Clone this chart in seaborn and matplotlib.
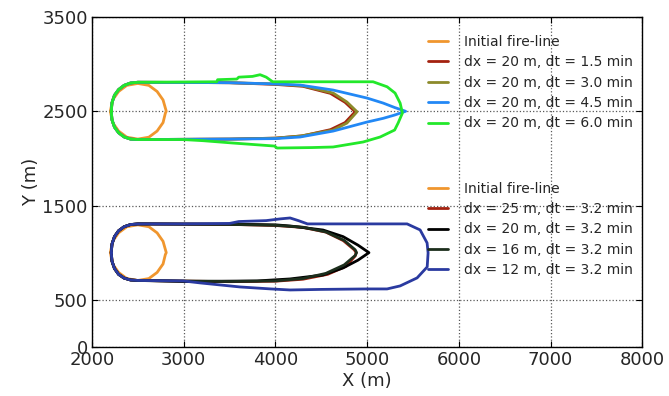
import seaborn as sns
import matplotlib.pyplot as plt

sns.set_style('ticks', {'xtick.direction': 'in', 'ytick.direction': 'in'})
plt.rcParams['font.family'] = ['DejaVu Sans']

# initial fire-lines (circles)
init_top_x = [2200, 2225, 2290, 2380, 2500, 2620, 2710, 2775, 2810, 2800, 2775, 2710, 2620, 2500, 2380, 2290, 2225, 2200]
init_top_y = [2500, 2620, 2710, 2775, 2795, 2775, 2710, 2620, 2500, 2480, 2380, 2290, 2225, 2205, 2225, 2290, 2380, 2500]
init_bot_x = [2200, 2225, 2290, 2380, 2500, 2620, 2710, 2775, 2810, 2800, 2775, 2710, 2620, 2500, 2380, 2290, 2225, 2200]
init_bot_y = [1000, 1120, 1210, 1275, 1295, 1275, 1210, 1120, 1000, 980, 880, 790, 725, 705, 725, 790, 880, 1000]

# rounded rear ends shared by the spread fronts
rear_up_x = [2210, 2218, 2245, 2290, 2350, 2420, 2500]
rear_dn_x = [2500, 2420, 2350, 2290, 2245, 2218, 2210]
rear_top_up_y = [2500, 2590, 2670, 2730, 2775, 2800, 2808]
rear_top_dn_y = [2200, 2205, 2228, 2272, 2332, 2410, 2500]
rear_bot_up_y = [1000, 1090, 1170, 1232, 1275, 1298, 1305]
rear_bot_dn_y = [705, 710, 730, 770, 832, 910, 1000]

# top group: dx = 20 m, varying dt (head part only, rear added below)
dt15_x = [3500, 4000, 4300, 4600, 4760, 4870, 4760, 4600, 4300, 4000, 3500]
dt15_y = [2803, 2785, 2765, 2690, 2595, 2495, 2380, 2305, 2240, 2215, 2205]
dt30_x = [3500, 4000, 4300, 4630, 4780, 4890, 4780, 4630, 4270, 4000, 3500]
dt30_y = [2803, 2790, 2770, 2693, 2598, 2495, 2375, 2301, 2237, 2215, 2205]
dt45_x = [3500, 4000, 4270, 4630, 5000, 5175, 5300, 5420, 5300, 5175, 5000, 4630, 4270, 4000, 3500]
dt45_y = [2803, 2790, 2778, 2725, 2640, 2587, 2540, 2500, 2460, 2425, 2386, 2290, 2227, 2210, 2205]
dt60_x = [3360, 3370, 3580, 3600, 3750, 3833, 3900, 3970, 4500, 5065, 5218, 5305, 5360, 5385, 5338, 5300, 5142, 4956, 4629, 4400, 4018, 3990, 3538, 3210, 2993]
dt60_y = [2813, 2835, 2842, 2862, 2870, 2888, 2862, 2813, 2813, 2813, 2760, 2693, 2587, 2481, 2375, 2301, 2227, 2174, 2121, 2115, 2110, 2131, 2163, 2188, 2200]

# bottom group: dt = 3.2 min, varying dx
dx25_x = [3500, 4000, 4300, 4550, 4740, 4860, 4880, 4870, 4770, 4570, 4300, 4000, 3500]
dx25_y = [1300, 1288, 1268, 1218, 1128, 1030, 1000, 965, 855, 770, 718, 697, 692]
dx20_x = [3500, 4000, 4160, 4520, 4738, 4900, 5020, 4900, 4738, 4520, 4160, 3800, 3000]
dx20_y = [1302, 1295, 1283, 1240, 1170, 1080, 1000, 920, 838, 763, 721, 700, 694]
dx16_x = [3500, 4000, 4300, 4550, 4750, 4870, 4885, 4870, 4750, 4550, 4300, 4000, 3500]
dx16_y = [1300, 1290, 1270, 1220, 1130, 1030, 1000, 970, 870, 780, 725, 700, 694]
dx12_x = [3000, 3500, 3600, 3900, 4050, 4160, 4250, 4350, 5000, 5436, 5578, 5654, 5665, 5655, 5545, 5360, 5218, 5000, 4500, 4160, 3950, 3614, 3178, 2993]
dx12_y = [1305, 1310, 1330, 1340, 1358, 1368, 1340, 1305, 1305, 1305, 1241, 1103, 997, 848, 732, 647, 615, 615, 610, 604, 615, 636, 679, 700]

top_fronts = [
    (dt15_x, dt15_y, '#a3210f', 'dx = 20 m, dt = 1.5 min'),
    (dt30_x, dt30_y, '#8c8a2a', 'dx = 20 m, dt = 3.0 min'),
    (dt45_x, dt45_y, '#2288f5', 'dx = 20 m, dt = 4.5 min'),
    (dt60_x, dt60_y, '#22e82a', 'dx = 20 m, dt = 6.0 min'),
]
bot_fronts = [
    (dx25_x, dx25_y, '#a3210f', 'dx = 25 m, dt = 3.2 min'),
    (dx20_x, dx20_y, '#000000', 'dx = 20 m, dt = 3.2 min'),
    (dx16_x, dx16_y, '#1c2e1c', 'dx = 16 m, dt = 3.2 min'),
    (dx12_x, dx12_y, '#2a3aa0', 'dx = 12 m, dt = 3.2 min'),
]

fig, ax = plt.subplots(figsize=(6.69, 3.96), dpi=100)
fig.subplots_adjust(left=0.1375, right=0.96, top=0.957, bottom=0.124)

sns.lineplot(x=init_top_x, y=init_top_y, sort=False, estimator=None, color='#f0962e',
             lw=2, label='Initial fire-line', legend=False, ax=ax)
for xs, ys, c, lab in top_fronts:
    sns.lineplot(x=rear_up_x + xs + rear_dn_x, y=rear_top_up_y + ys + rear_top_dn_y,
                 sort=False, estimator=None, color=c, lw=2, label=lab, legend=False, ax=ax)

sns.lineplot(x=init_bot_x, y=init_bot_y, sort=False, estimator=None, color='#f0962e',
             lw=2, label='Initial fire-line', legend=False, ax=ax)
for xs, ys, c, lab in bot_fronts:
    sns.lineplot(x=rear_up_x + xs + rear_dn_x, y=rear_bot_up_y + ys + rear_bot_dn_y,
                 sort=False, estimator=None, color=c, lw=2, label=lab, legend=False, ax=ax)

ax.set_xlim(2000, 8000)
ax.set_ylim(0, 3500)
ax.set_xticks([2000, 3000, 4000, 5000, 6000, 7000, 8000])
ax.set_yticks([0, 500, 1500, 2500, 3500])
ax.tick_params(labelsize=13, top=True, right=True, length=4, pad=3, color='k')
ax.grid(True, ls=':', color='0.35', lw=0.9)
for s in ax.spines.values():
    s.set_color('k')
    s.set_linewidth(1)
ax.set_xlabel('X (m)', fontsize=13, labelpad=2)
ax.set_ylabel('Y (m)', fontsize=13, labelpad=2)

handles, labels = ax.get_legend_handles_labels()
leg_kw = dict(loc='upper left', frameon=False, fontsize=10, handlelength=1.5,
              handletextpad=1.1, labelspacing=0.46, borderpad=0, borderaxespad=0)
leg1 = ax.legend(handles[:5], labels[:5], bbox_to_anchor=(0.61, 0.946), **leg_kw)
ax.add_artist(leg1)
ax.legend(handles[5:], labels[5:], bbox_to_anchor=(0.61, 0.501), **leg_kw)

plt.savefig('out.png', dpi=100)
